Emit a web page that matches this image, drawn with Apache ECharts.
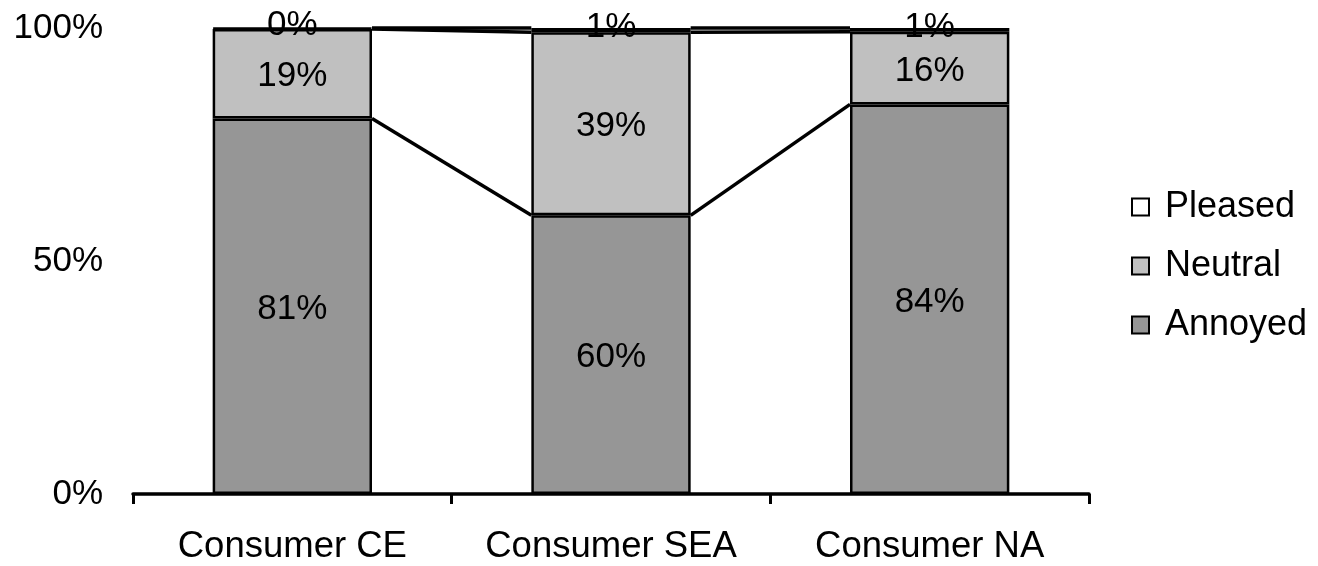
<!DOCTYPE html>
<html>
<head>
<meta charset="utf-8">
<script src="https://cdn.jsdelivr.net/npm/echarts@6/dist/echarts.min.js"></script>
<style>
html,body{margin:0;padding:0;background:#fff;}
#chart{width:1318px;height:566px;}
</style>
</head>
<body>
<div id="chart"></div>
<script>
const categories = ['Consumer CE', 'Consumer SEA', 'Consumer NA'];
const annoyed = [80.6, 59.8, 83.6];
const neutral = [19.2, 39.3, 15.6];
const pleased = [0.2, 0.9, 0.8];
const yTicks = [0, 50, 100];

const FONT = '"Liberation Sans", Arial, sans-serif';
const FS = 35;

const cum1 = annoyed.slice();
const cum2 = annoyed.map((v, i) => v + neutral[i]);
const cum3 = annoyed.map((v, i) => v + neutral[i] + pleased[i]);
const levels = [cum1, cum2, cum3];

const chart = echarts.init(document.getElementById('chart'), null, {renderer: 'canvas'});

function labelCfg(dy) {
  return {
    show: true,
    position: 'inside',
    offset: [0, dy],
    color: '#000',
    fontFamily: FONT,
    fontSize: FS,
    formatter: p => Math.round(p.value) + '%'
  };
}

function barSeries(name, data, color, dy) {
  return {
    name: name,
    type: 'bar',
    stack: 'total',
    barWidth: '50%',
    data: data,
    itemStyle: {color: color, borderColor: '#000', borderWidth: 2.5},
    label: labelCfg(dy),
    emphasis: {disabled: true},
    z: 2
  };
}

const option = {
  animation: false,
  backgroundColor: '#fff',
  grid: {left: 133, right: 229, top: 28, bottom: 72, containLabel: false},
  legend: {
    orient: 'vertical',
    left: 1126,
    top: 184,
    itemWidth: 17,
    itemHeight: 17,
    itemGap: 23,
    icon: 'rect',
    data: ['Pleased', 'Neutral', 'Annoyed'],
    textStyle: {fontFamily: FONT, fontSize: 36, color: '#000', padding: [0, 0, 0, 11]}
  },
  xAxis: {
    type: 'category',
    data: categories,
    boundaryGap: true,
    axisLine: {show: true, lineStyle: {color: '#000', width: 3.5}},
    axisTick: {show: true, inside: false, interval: 0, length: 10, lineStyle: {color: '#000', width: 3}},
    axisLabel: {color: '#000', fontFamily: FONT, fontSize: 36.5, margin: 34, interval: 0, hideOverlap: false}
  },
  yAxis: {
    type: 'value',
    min: 0,
    max: 100,
    interval: 50,
    axisLine: {show: false},
    axisTick: {show: false},
    splitLine: {show: false},
    axisLabel: {
      color: '#000', fontFamily: FONT, fontSize: FS, margin: 30,
      formatter: v => (yTicks.indexOf(v) >= 0 ? v + '%' : '')
    }
  },
  series: [
    barSeries('Annoyed', annoyed, '#969696', 3),
    barSeries('Neutral', neutral, '#c0c0c0', 3),
    barSeries('Pleased', pleased, '#ffffff', -3),
    {
      type: 'custom',
      name: 'seriesLines',
      data: categories.slice(0, categories.length - 1).map((c, i) => i),
      z: 5,
      silent: true,
      renderItem: function (params, api) {
        const i = params.dataIndex;
        const bw = api.size([1, 0])[0];
        const half = bw * 0.25;
        const children = levels.map(lv => {
          const p1 = api.coord([i, lv[i]]);
          const p2 = api.coord([i + 1, lv[i + 1]]);
          return {
            type: 'line',
            shape: {x1: p1[0] + half, y1: p1[1], x2: p2[0] - half, y2: p2[1]},
            style: {stroke: '#000', lineWidth: 3.5}
          };
        });
        return {type: 'group', children: children};
      }
    }
  ]
};
chart.setOption(option);
</script>
</body>
</html>
